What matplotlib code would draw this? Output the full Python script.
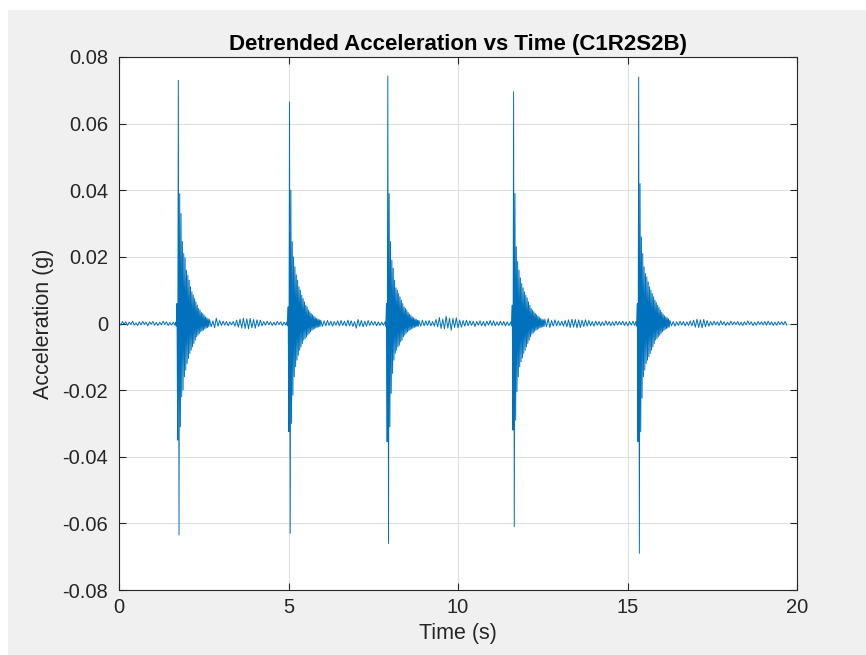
import numpy as np
import matplotlib.pyplot as plt
import matplotlib.patches as patches

# values in milli-g
gap_starts = [0.0, 2.67, 5.95, 8.85, 12.56, 16.25]
burst_starts = [1.67, 4.95, 7.85, 11.56, 15.25]
gap_step = 0.05
ring_step = 0.02

gap0 = [0.3, -0.5, 0.6, -0.2, 0.5, -0.6, 0.4, -0.3, 0.7, -0.5,
        0.2, -0.6, 0.5, -0.4, 0.6, -0.3, 0.4, -0.7, 0.5, -0.2,
        0.6, -0.5, 0.3, -0.6, 0.4, -0.4, 0.7, -0.3, 0.5, -0.6,
        0.3, -0.5, 0.4, -0.5]
gap1 = [1.2, -1.0, 0.8, -1.3, 1.6, -0.8, 0.9, -0.6, 0.7, -0.5,
        0.6, -0.7, 0.5, -0.4, 0.6, -0.8, 1.0, -1.1, 1.3, -1.4,
        1.6, -1.5, 1.4, -1.6, 1.5, -1.3, 1.2, -1.4, 1.1, -0.9,
        1.0, -0.7, 0.6, -0.5, 0.7, -0.4, 0.5, -0.6, 0.4, -0.5,
        0.6, -0.3, 0.5, -0.6, 0.4, -0.5]
gap2 = [1.0, -0.9, 0.8, -0.7, 0.9, -0.6, 0.7, -0.8, 0.6, -0.5,
        0.8, -0.7, 0.9, -0.6, 0.7, -0.8, 1.0, -0.7, 0.8, -0.9,
        0.6, -1.4, 1.2, -0.8, 0.9, -1.0, 0.7, -0.8, 0.9, -0.6,
        0.7, -0.5, 0.6, -0.7, 0.5, -0.6, 0.4, -0.5]
gap3 = [0.9, -0.8, 1.0, -0.7, 0.8, -0.6, 0.9, -0.7, 0.6, -0.8,
        1.2, -1.0, 1.8, -1.5, 1.3, -1.6, 2.2, -1.4, 1.6, -2.0,
        1.5, -1.2, 1.7, -1.3, 1.0, -1.1, 0.9, -0.8, 1.0, -0.7,
        0.8, -0.6, 0.7, -0.9, 0.6, -0.5, 0.8, -0.7, 0.6, -0.8,
        0.7, -0.5, 0.9, -0.6, 0.8, -0.7, 0.5, -0.6, 0.7, -0.5,
        0.6, -0.7, 0.5, -0.6]
gap4 = [1.3, -1.0, 1.5, -1.2, 0.9, -0.8, 1.1, -0.7, 0.8, -0.6,
        0.7, -0.8, 0.9, -1.0, 1.1, -1.2, 1.3, -1.1, 1.2, -1.3,
        1.1, -1.2, 1.0, -0.9, 1.1, -0.8, 0.9, -0.7, 0.6, -0.8,
        0.7, -0.5, 0.6, -0.7, 0.5, -0.6, 0.8, -0.5, 0.6, -0.7,
        0.5, -0.6, 0.7, -0.5, 0.6, -0.4, 0.7, -0.6, 0.5, -0.7,
        0.6, -0.5, 0.7, -0.6]
gap5 = [0.9, -0.7, 0.6, -0.8, 0.5, -0.6, 0.7, -0.5, 0.6, -0.7,
        0.5, -0.6, 0.8, -0.7, 1.0, -1.1, 1.3, -1.2, 1.1, -1.3,
        1.2, -1.0, 0.9, -0.8, 0.6, -0.5, 0.7, -0.4, 0.5, -0.6,
        0.8, -0.4, 0.5, -0.6, 0.4, -0.5, 0.7, -0.4, 0.5, -0.3,
        0.6, -0.5, 0.4, -0.6, 0.5, -0.4, 0.8, -0.3, 0.5, -0.6,
        0.4, -0.5, 0.6, -0.3, 0.5, -0.4, 0.6, -0.5, 0.7, -0.4,
        0.5, -0.6, 0.4, -0.5, 0.6, -0.3, 0.5, -0.4, 0.6, -0.5]

ring1 = [0.4, -0.8, 6, -35, 73, -63.5, 39, -31, 33, -22,
         24.6, -20, 21, -16, 19.7, -14, 16, -12, 14.5, -10.5,
         13, -9, 11, -8, 9.5, -7, 8.6, -6, 7.5, -5,
         6.5, -4, 5.5, -3.5, 4.5, -3, 4, -2.5, 3.3, -2.2,
         3, -2, 2.5, -1.6, 2, -1.4, 1.7, -1.2, 1.4, -1]
ring2 = [0.5, -0.7, 5, -32.5, 66.5, -63, 40, -30, 24.6, -21.5,
         20, -16, 17, -13, 14.6, -11, 13, -9.5, 11, -8,
         10, -7, 8.5, -6, 7.5, -5, 6.5, -4.5, 5.5, -4,
         5, -3.5, 4, -3, 3.5, -2.5, 3, -2, 2.6, -1.8,
         2.2, -1.5, 1.8, -1.3, 1.5, -1.1, 1.3, -1, 1.1, -0.9]
ring3 = [0.5, -0.8, 6, -35.5, 74.3, -66, 39, -31, 24.6, -21,
         19, -15, 16.6, -11, 13, -9, 10.7, -8, 10, -7,
         9, -6.5, 8, -5.5, 7, -5, 6, -4, 5, -3.5,
         4.5, -3, 4, -2.5, 3.3, -2.2, 2.8, -1.9, 2.4, -1.6,
         2, -1.4, 1.7, -1.2, 1.4, -1, 1.2, -0.9, 1, -0.8]
ring4 = [0.5, -0.7, 5.5, -32, 69.6, -61, 39, -29, 23, -20.5,
         18.6, -16, 16, -13, 13.7, -11.5, 12, -10.4, 10.7, -9,
         9.5, -8, 8.5, -7, 7.7, -6, 6.5, -5, 5.5, -4,
         4.5, -3.2, 4, -2.8, 3.5, -2.4, 3, -2, 2.6, -1.8,
         2.2, -1.5, 1.8, -1.3, 1.5, -1.1, 1.3, -1, 1.1, -0.9]
ring5 = [0.6, -0.8, 6, -35.5, 74, -69, 42, -32.5, 26, -22.4,
         21, -16, 17, -14, 15, -12, 14, -11, 12.5, -10,
         11, -9, 10, -8, 9, -7, 8, -6, 7, -5,
         6.3, -4.5, 5.5, -4, 4.8, -3.5, 4, -3, 3.4, -2.5,
         2.8, -2.1, 2.3, -1.8, 2, -1.5, 1.7, -1.3, 1.4, -1.1]

gaps = [gap0, gap1, gap2, gap3, gap4, gap5]
rings = [ring1, ring2, ring3, ring4, ring5]

t_parts = []
a_parts = []
for i in range(len(gaps)):
    t_parts.append(gap_starts[i] + gap_step * np.arange(len(gaps[i])))
    a_parts.append(np.array(gaps[i]))
    if i < len(rings):
        t_parts.append(burst_starts[i] + ring_step * np.arange(len(rings[i])))
        a_parts.append(np.array(rings[i]))
t = np.concatenate(t_parts)
acc = np.concatenate(a_parts) / 1000.0

plt.rcParams['font.family'] = ['Liberation Sans', 'DejaVu Sans']

fig = plt.figure(figsize=(8.66, 6.55), dpi=100, facecolor='#f0f0f0')
fig.patches.append(patches.Rectangle((0, 1 - 10 / 655), 1, 10 / 655, transform=fig.transFigure,
                                     facecolor='white', edgecolor='none', zorder=0))
fig.patches.append(patches.Rectangle((0, 0), 8 / 866, 1, transform=fig.transFigure,
                                     facecolor='white', edgecolor='none', zorder=0))
ax = fig.add_axes([119 / 866, 65 / 655, 678 / 866, 533 / 655])

ax.plot(t, acc, color='#0072BD', linewidth=0.7)

ax.set_xlim(0, 20)
ax.set_ylim(-0.08, 0.08)
ax.set_xticks([0, 5, 10, 15, 20])
ax.set_yticks(np.arange(-0.08, 0.0801, 0.02))
ax.set_yticklabels(['-0.08', '-0.06', '-0.04', '-0.02', '0', '0.02', '0.04', '0.06', '0.08'])
ax.grid(True, color='#dfdfdf', linewidth=0.8)
ax.set_axisbelow(True)
ax.tick_params(direction='in', length=5, width=0.8, color='#262626', labelcolor='#262626',
               top=True, right=True, labelsize=14.5)
ax.tick_params(axis='y', pad=8)
ax.tick_params(axis='x', pad=6)
for s in ax.spines.values():
    s.set_color('#262626')
    s.set_linewidth(0.8)

ax.set_title('Detrended Acceleration vs Time (C1R2S2B)', fontsize=16, fontweight='bold', pad=5)
ax.set_xlabel('Time (s)', fontsize=15.5, color='#262626', labelpad=4)
ax.set_ylabel('Acceleration (g)', fontsize=15.5, color='#262626', labelpad=6)

plt.savefig('out.png', dpi=100, facecolor=fig.get_facecolor())
